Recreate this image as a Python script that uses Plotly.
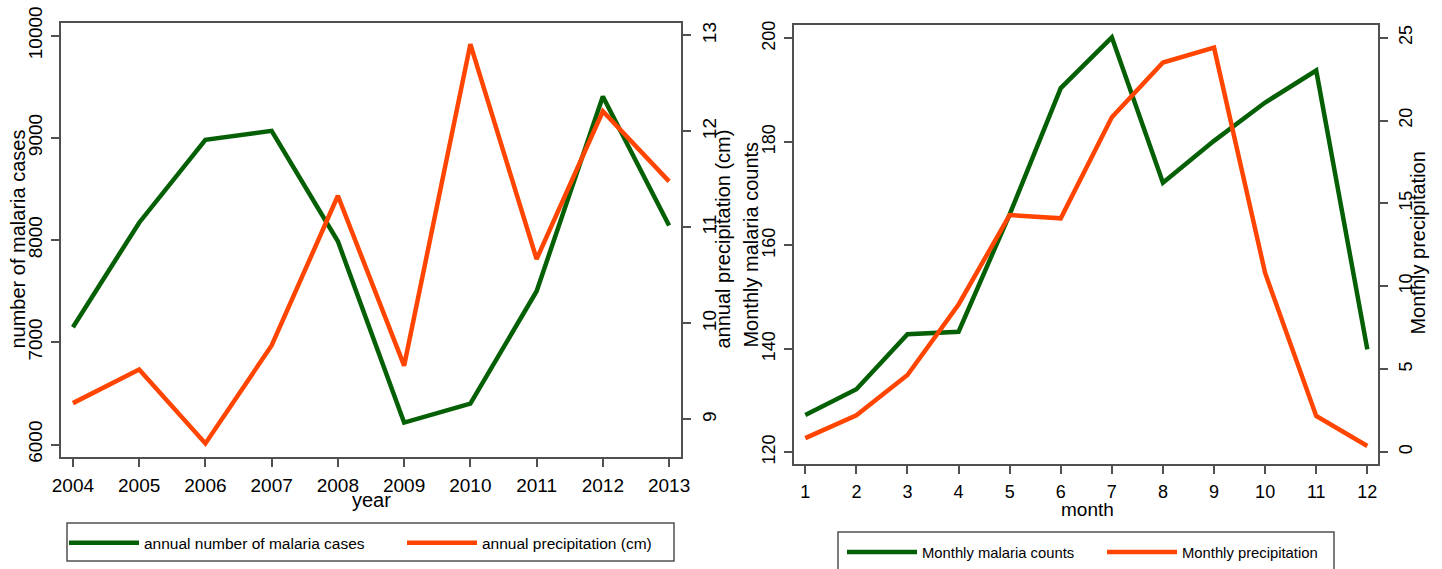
import plotly.graph_objects as go

years = [2004, 2005, 2006, 2007, 2008, 2009, 2010, 2011, 2012, 2013]
annual_cases = [7148, 8170, 8981, 9069, 7988, 6215, 6400, 7500, 9404, 8142]
annual_precip = [9.17, 9.52, 8.75, 9.77, 11.33, 9.56, 12.91, 10.67, 12.21, 11.48]

months = [1, 2, 3, 4, 5, 6, 7, 8, 9, 10, 11, 12]
monthly_counts = [127.2, 132.2, 142.8, 143.3, 166.0, 190.4, 200.2, 172.1, 180.2, 187.6, 193.8, 139.9]
monthly_precip = [0.83, 2.21, 4.64, 8.9, 14.3, 14.1, 20.2, 23.5, 24.4, 10.8, 2.17, 0.36]

cases_ticks = [6000, 7000, 8000, 9000, 10000]
aprecip_ticks = [9, 10, 11, 12, 13]
counts_ticks = [120, 140, 160, 180, 200]
mprecip_ticks = [0, 5, 10, 15, 20, 25]

GREEN = "#056005"
ORANGE = "#ff4500"
FONT = "Liberation Sans, Arial, sans-serif"
LINEC = "#505050"

# body margin is removed in the page, so the figure fills the window exactly
OFF = 0
W, H = 1442, 569


def px(x):
    return (x - OFF) / W


def py(y):
    return 1 - (y - OFF) / H


fig = go.Figure()
fig.add_trace(go.Scatter(x=years, y=annual_cases, mode="lines", name="annual number of malaria cases",
                         line=dict(color=GREEN, width=4.5), xaxis="x", yaxis="y", legend="legend"))
fig.add_trace(go.Scatter(x=years, y=annual_precip, mode="lines", name="annual precipitation (cm)",
                         line=dict(color=ORANGE, width=4.5), xaxis="x", yaxis="y2", legend="legend2"))
fig.add_trace(go.Scatter(x=months, y=monthly_counts, mode="lines", name="Monthly malaria counts",
                         line=dict(color=GREEN, width=4.5), xaxis="x2", yaxis="y3", legend="legend3"))
fig.add_trace(go.Scatter(x=months, y=monthly_precip, mode="lines", name="Monthly precipitation",
                         line=dict(color=ORANGE, width=4.5), xaxis="x2", yaxis="y4", legend="legend4"))

common = dict(showgrid=False, zeroline=False, showline=True, linecolor=LINEC, linewidth=1.8,
              ticks="outside", ticklen=8, tickcolor=LINEC, tickwidth=1.5, automargin=False,
              ticklabelstandoff=2, ticklabeloverflow="allow")

left_dom = [px(61), px(681)]
left_ydom = [py(457.7), py(23)]
right_dom = [px(793.7), px(1378.3)]
right_ydom = [py(465), py(25)]


def leg(x, y, size):
    return dict(orientation="h", x=px(x), y=py(y), xanchor="left", yanchor="middle",
                bgcolor="rgba(0,0,0,0)", borderwidth=0, font=dict(size=size), itemwidth=70)


def title_ann(text, x, y, size, angle):
    return dict(text=text, x=px(x), y=py(y), xref="paper", yref="paper", showarrow=False,
                xanchor="center", yanchor="middle", textangle=angle, font=dict(size=size))


def open_box(x0, x1, ytop, ybot, closed=True):
    X0, X1, YT, YB = px(x0), px(x1), py(ytop), py(ybot)
    d = f"M {X0},{YB} L {X0},{YT} L {X1},{YT} L {X1},{YB}" + (" Z" if closed else "")
    return dict(type="path", xref="paper", yref="paper", path=d,
                line=dict(color=LINEC, width=1.5), layer="below")


fig.update_layout(
    width=W, height=H,
    margin=dict(l=0, r=0, t=0, b=0),
    paper_bgcolor="white", plot_bgcolor="white",
    font=dict(family=FONT, color="black", size=18),
    showlegend=True,
    xaxis=dict(domain=left_dom, anchor="y", range=[2003.82, 2013.18], tickvals=years, mirror=True,
               tickfont=dict(size=19), **common),
    yaxis=dict(domain=left_ydom, anchor="x", range=[5879, 10124], tickvals=cases_ticks,
               ticktext=[str(v) for v in cases_ticks], tickangle=-90, tickfont=dict(size=19), **common),
    yaxis2=dict(overlaying="y", anchor="x", side="right", range=[8.61, 13.13], tickvals=aprecip_ticks,
                tickangle=-90, tickfont=dict(size=19), **common),
    xaxis2=dict(domain=right_dom, anchor="y3", range=[0.773, 12.215], tickvals=months, mirror=True,
                tickfont=dict(size=18), **common),
    yaxis3=dict(domain=right_ydom, anchor="x2", range=[117.7, 202.6], tickvals=counts_ticks, tickangle=-90,
                tickfont=dict(size=18), **common),
    yaxis4=dict(overlaying="y3", anchor="x2", side="right", range=[-0.74, 25.77], tickvals=mprecip_ticks,
                tickangle=-90, tickfont=dict(size=18), **common),
    legend=leg(64, 543.3, 15.5),
    legend2=leg(402, 543.3, 15.5),
    legend3=leg(842, 553.3, 14.8),
    legend4=leg(1102, 553.3, 14.8),
    annotations=[
        title_ann("number of malaria cases", 18, 240, 20, -90),
        title_ann("annual precipitation (cm)", 723, 240, 20, -90),
        title_ann("year", 371, 501, 20, 0),
        title_ann("Monthly malaria counts", 751, 245, 20, -90),
        title_ann("Monthly precipitation", 1418, 244, 20, -90),
        title_ann("month", 1087, 510, 19, 0),
    ],
    shapes=[
        open_box(67, 674, 524, 562, closed=True),
        open_box(838, 1334, 533, 600, closed=False),
    ],
)

fig.write_html("out.html", config={"displayModeBar": False},
               post_script="document.body.style.margin='0';document.body.style.overflow='hidden';")
